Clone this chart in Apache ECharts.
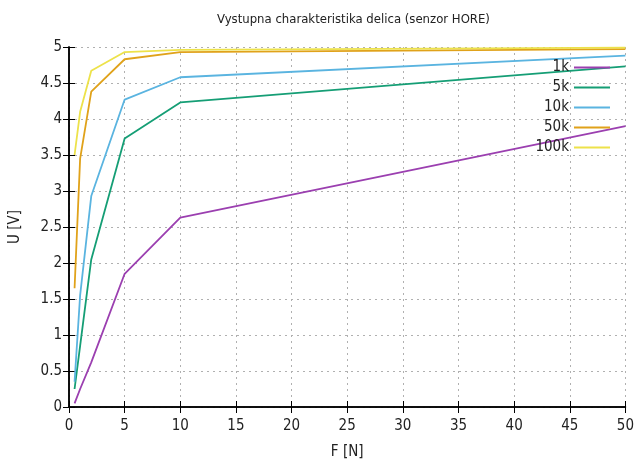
<!DOCTYPE html>
<html><head><meta charset="utf-8">
<script src="https://cdn.jsdelivr.net/npm/echarts@6/dist/echarts.min.js"></script>
<style>html,body{margin:0;padding:0;background:#fff}#c{width:637px;height:466px}</style>
</head><body><div id="c"></div>
<script>
const forces = [0.5, 1, 2, 5, 10, 50];
const seriesNames = ['1k', '5k', '10k', '50k', '100k'];
const u1k   = [0.05, 0.25, 0.62, 1.85, 2.63, 3.9];
const u5k   = [0.25, 0.85, 2.05, 3.73, 4.23, 4.73];
const u10k  = [0.35, 1.55, 2.93, 4.27, 4.58, 4.88];
const u50k  = [1.65, 3.45, 4.38, 4.83, 4.93, 4.97];
const u100k = [3.5, 4.1, 4.67, 4.93, 4.96, 4.99];
const colors = ['#9b3fb0', '#159e75', '#5ab4e0', '#e0a21a', '#ede24a'];
const allU = [u1k, u5k, u10k, u50k, u100k];

const font = 'DejaVu Sans Condensed, DejaVu Sans, sans-serif';
const chart = echarts.init(document.getElementById('c'), null, {renderer: 'canvas'});
const grid = {left: 68, right: 10, top: 47, bottom: 59};
const xBase = {type: 'value', min: 0, max: 50, interval: 5};
const yBase = {type: 'value', min: 0, max: 5, interval: 0.5};
chart.setOption({
  animation: false,
  title: {text: 'Vystupna charakteristika delica (senzor HORE)', left: 212, top: 8,
    textStyle: {fontFamily: font, fontSize: 13, fontWeight: 'normal', color: '#222'}},
  grid: grid,
  legend: {
    right: 22, top: 55, orient: 'vertical', align: 'right', itemGap: 5,
    itemWidth: 36, itemHeight: 16,
    textStyle: {fontFamily: font, fontSize: 15, color: '#222'},
    data: seriesNames.map(n => ({name: n, icon: 'path://M0,6 L36,6 L36,8 L0,8 Z'}))
  },
  xAxis: [
    Object.assign({}, xBase, {position: 'bottom', name: 'F [N]', nameLocation: 'middle', nameGap: 38,
      nameTextStyle: {fontFamily: font, fontSize: 15, color: '#222'},
      axisLine: {show: true, lineStyle: {color: '#000', width: 1.5}},
      axisTick: {show: true, inside: true, length: 6, lineStyle: {color: '#000'}},
      axisLabel: {fontFamily: font, fontSize: 15, color: '#222', margin: 12},
      splitLine: {show: true, lineStyle: {color: '#b0b0b0', type: [2, 4], width: 1}}}),
    Object.assign({}, xBase, {position: 'top',
      axisLine: {show: true, lineStyle: {color: '#000', width: 1.5}},
      axisTick: {show: true, inside: true, length: 6, lineStyle: {color: '#000'}},
      axisLabel: {show: false}, splitLine: {show: false}})
  ],
  yAxis: [
    Object.assign({}, yBase, {position: 'left', name: 'U [V]', nameLocation: 'middle', nameGap: 46,
      nameRotate: 90,
      nameTextStyle: {fontFamily: font, fontSize: 15, color: '#222'},
      axisLine: {show: true, lineStyle: {color: '#000', width: 1.5}},
      axisTick: {show: true, inside: true, length: 6, lineStyle: {color: '#000'}},
      axisLabel: {fontFamily: font, fontSize: 15, color: '#222', margin: 7},
      splitLine: {show: true, lineStyle: {color: '#b0b0b0', type: [2, 4], width: 1}}}),
    Object.assign({}, yBase, {position: 'right',
      axisLine: {show: true, lineStyle: {color: '#000', width: 1.5}},
      axisTick: {show: true, inside: true, length: 6, lineStyle: {color: '#000'}},
      axisLabel: {show: false}, splitLine: {show: false}})
  ],
  series: seriesNames.map((n, i) => ({
    name: n, type: 'line', xAxisIndex: 0, yAxisIndex: 0,
    data: forces.map((f, j) => [f, allU[i][j]]),
    showSymbol: false, symbol: 'none',
    lineStyle: {color: colors[i], width: 1.8}, itemStyle: {color: colors[i]}
  }))
});
</script></body></html>
